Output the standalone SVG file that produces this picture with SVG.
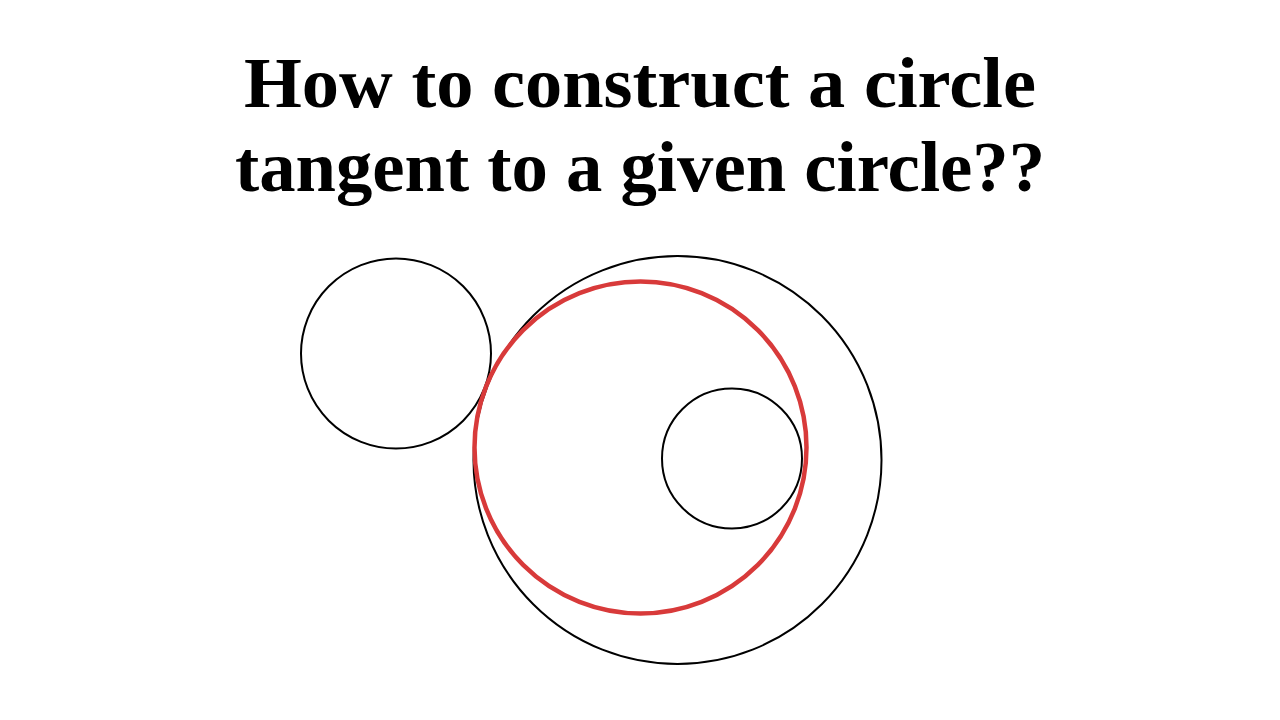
<svg xmlns="http://www.w3.org/2000/svg" width="1280" height="720" viewBox="0 0 1280 720">
<style>
.t{font-family:"Liberation Serif","DejaVu Serif",serif;font-weight:bold;font-size:72px;fill:#000}
.c{fill:none;stroke:#000;stroke-width:2}
.r{fill:none;stroke:#d83a3a;stroke-width:4.5}
</style>
<rect width="1280" height="720" fill="#fff"/>
<g id="title">
<text class="t" x="640" y="107" text-anchor="middle" textLength="792" lengthAdjust="spacingAndGlyphs">How to construct a circle</text>
<text class="t" x="640" y="191" text-anchor="middle" textLength="810" lengthAdjust="spacingAndGlyphs">tangent to a given circle??</text>
</g>
<g id="circle-left"><circle class="c" cx="396" cy="353.5" r="95"/></g>
<g id="circle-big"><circle class="c" cx="677.5" cy="460" r="204"/></g>
<g id="circle-small"><circle class="c" cx="732" cy="458.5" r="70"/></g>
<g id="circle-red"><circle class="r" cx="640.5" cy="447.5" r="166"/></g>
</svg>
